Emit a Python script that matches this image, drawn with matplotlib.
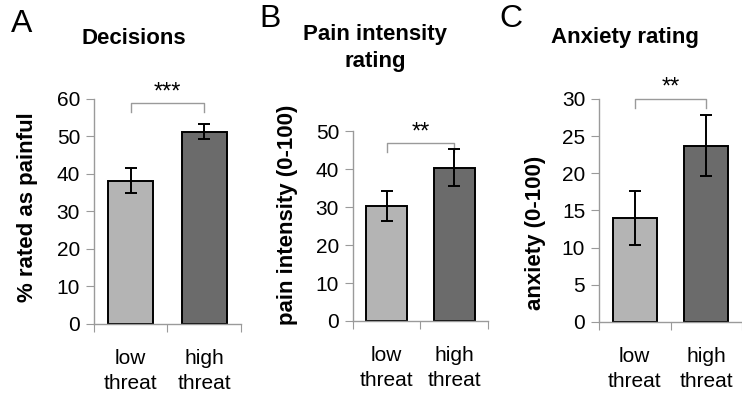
import matplotlib.pyplot as plt

plt.rcParams["font.family"] = ["Liberation Sans", "DejaVu Sans"]

categories = ["low\nthreat", "high\nthreat"]

decisions = [38.2, 51.2]
decisions_err = [3.3, 2.0]

pain = [30.3, 40.4]
pain_err = [4.0, 4.8]

anxiety = [14.0, 23.7]
anxiety_err = [3.6, 4.1]

bar_colors = ["#b4b4b4", "#6b6b6b"]
spine_gray = "#9a9a9a"


def panel(fig, rect, values, errors, ylim, yticks, ylabel, label_xy, stars, bracket, xmax=1.5):
    ax = fig.add_axes(rect)
    x = list(range(len(values)))
    ax.bar(x, values, width=0.61, color=bar_colors, edgecolor="black", linewidth=1.4, zorder=2)
    ax.errorbar(x, values, yerr=errors, fmt="none", ecolor="black", elinewidth=1.4,
                capsize=4, capthick=1.4, zorder=3)
    ax.set_xlim(-0.5, xmax)
    ax.set_ylim(*ylim)
    ax.set_yticks(yticks)
    ax.set_xticks([-0.5, 0.5, 1.5])
    ax.set_xticklabels([])
    ax.set_xticks(x, minor=True)
    ax.set_xticklabels(categories, minor=True, fontsize=15, linespacing=1.4)
    ax.tick_params(axis="x", which="major", direction="out", length=6, color=spine_gray)
    ax.tick_params(axis="x", which="minor", length=0, pad=18)
    ax.tick_params(axis="y", direction="out", length=6, color=spine_gray, labelsize=15, pad=4)
    for side in ["top", "right"]:
        ax.spines[side].set_visible(False)
    for side in ["left", "bottom"]:
        ax.spines[side].set_color(spine_gray)
        ax.spines[side].set_linewidth(1.0)
    ax.spines["bottom"].set_bounds(-0.5, 1.5)
    ax.set_ylabel(ylabel, fontsize=16, fontweight="bold")
    ax.yaxis.set_label_coords(*label_xy)

    # significance bracket
    top, low = bracket
    ax.plot([0, 0, 1, 1], [low, top, top, low], color=spine_gray,
            linewidth=1.0, clip_on=False)
    ax.text(0.5, top, stars, ha="center", va="bottom", fontsize=17)
    return ax


fig = plt.figure(figsize=(7.42, 3.99), dpi=100)

panel(fig, [0.1267, 0.188, 0.198, 0.564], decisions, decisions_err,
      (0, 60), range(0, 61, 10), "% rated as painful", (-0.381, 0.518), "***", (58.9, 56.5))
panel(fig, [0.4757, 0.1955, 0.182, 0.476], pain, pain_err,
      (0, 50), range(0, 51, 10), "pain intensity (0-100)", (-0.407, 0.558), "**", (46.8, 44.5))
panel(fig, [0.8073, 0.193, 0.1927, 0.559], anxiety, anxiety_err,
      (0, 30), range(0, 31, 5), "anxiety (0-100)", (-0.371, 0.40), "**", (30.0, 28.8), xmax=1.407)

fig.text(22 / 742, 1 - 24 / 399, "A", fontsize=23, va="center", ha="center")
fig.text(270 / 742, 1 - 19 / 399, "B", fontsize=23, va="center", ha="center")
fig.text(511 / 742, 1 - 19 / 399, "C", fontsize=23, va="center", ha="center")

fig.text(134 / 742, 1 - 38 / 399, "Decisions", fontsize=16, fontweight="bold", ha="center", va="center")
fig.text(375 / 742, 1 - 48 / 399, "Pain intensity\nrating", fontsize=16, fontweight="bold",
         ha="center", va="center", linespacing=1.35)
fig.text(625 / 742, 1 - 38 / 399, "Anxiety rating", fontsize=16, fontweight="bold", ha="center", va="center")

fig.savefig("out.png", dpi=100)
